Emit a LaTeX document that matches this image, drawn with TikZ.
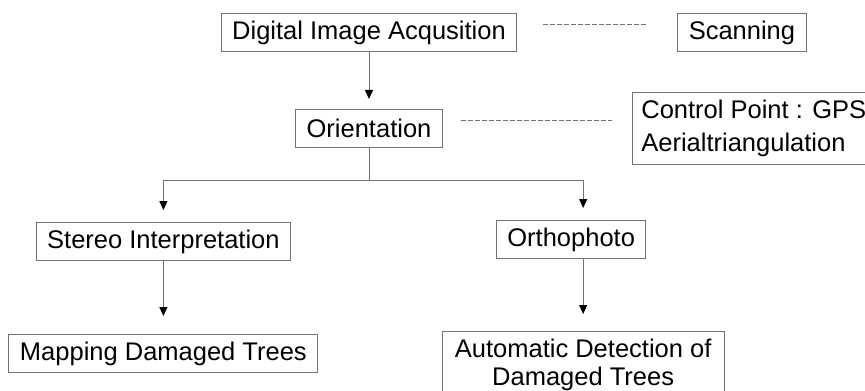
\documentclass[tikz,border=0pt]{standalone}
\usepackage{fontspec}
\setmainfont{Liberation Sans}
\usetikzlibrary{arrows.meta,positioning}
\tikzset{
  box/.style ={draw=black!55,line width=0.5pt,align=center,
               font=\fontsize{12.75}{16.5}\selectfont,
               inner xsep=5.5pt,inner ysep=2pt,minimum height=19pt},
  ar/.style  ={draw=black!55,line width=0.5pt,
               -{Triangle[length=4.5pt,width=4pt,color=black]}},
  ln/.style  ={draw=black!55,line width=0.5pt},
  dsh/.style ={draw=black!55,line width=0.5pt,dash pattern=on 2.5pt off 1pt},
}

\begin{document}
\begin{tikzpicture}
\useasboundingbox (-184.5pt,16.25pt) rectangle (248pt,-178.75pt);
\node[box] (DIA) {Digital Image Acqusition};
\node[box,right=80pt of DIA] (SC) {Scanning};
\node[box,below=28.5pt of DIA] (OR) {Orientation};
\node[box,align=left,inner xsep=4.5pt,inner ysep=4pt,right=94.5pt of OR] (CP) {Control Point : GPS\\Aerialtriangulation};
\node[box,below left=37pt and 2pt of OR] (ST) {Stereo Interpretation};
\node[box,below right=36pt and 26.5pt of OR] (OP) {Orthophoto};
\node[box,below=36.5pt of ST] (MD) {Mapping Damaged Trees};
\node[box,font=\fontsize{12.75}{14}\selectfont,inner xsep=6.4pt,inner ysep=4pt,
      below=36pt of OP,xshift=6pt] (AD) {Automatic Detection of\\Damaged Trees};
\coordinate[below=16pt of OR.south] (J);
% dashed links
\draw[dsh,shorten <=13pt,shorten >=14.5pt] ([yshift=4pt]DIA.east) -- ([yshift=4pt]SC.west);
\draw[dsh,shorten <=9pt,shorten >=10pt] ([yshift=4pt]OR.east) -- ([yshift=4pt]OR.east -| CP.west);
% flow
\draw[ar,shorten >=5pt] (DIA.south) -- (OR.north);
\draw[ln] (OR.south) -- (J);
\draw[ar,shorten >=6pt] (J) -| (ST.north);
\draw[ar,shorten >=6pt] (J) -| (OP.north -| AD.north);
\draw[ar,shorten >=9pt] (ST.south) -- (ST.south |- MD.north);
\draw[ar,shorten >=8.5pt] (OP.south -| AD.north) -- (AD.north);
\end{tikzpicture}
\end{document}
